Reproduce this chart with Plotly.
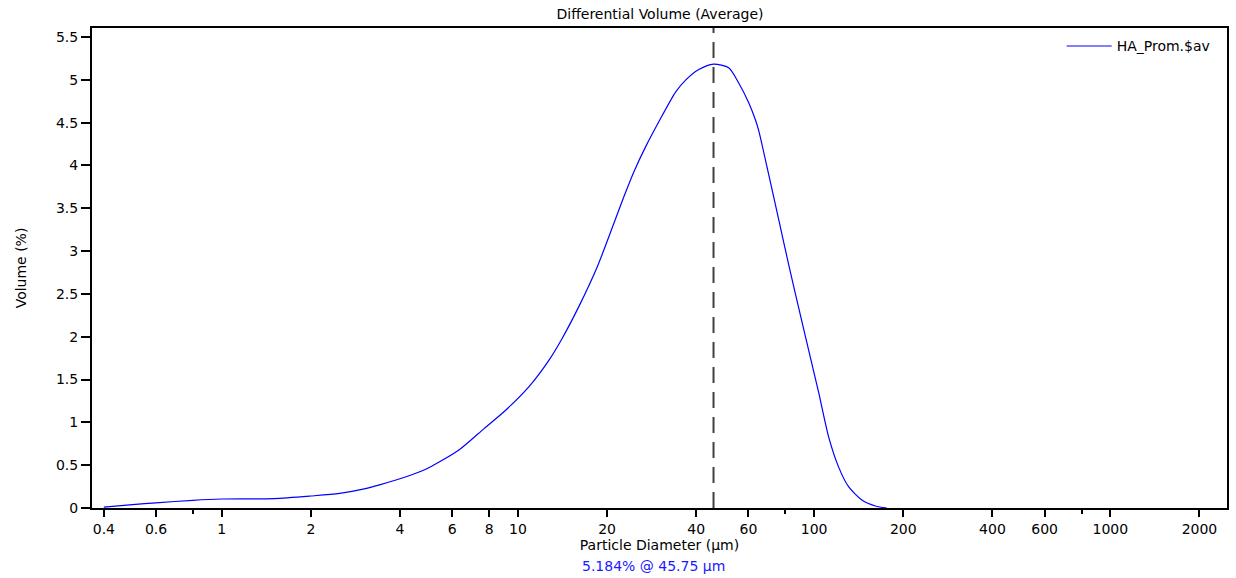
import plotly.graph_objects as go

# Differential volume distribution (average of runs)
diameter_um = [0.4, 0.5, 0.6, 0.8, 1.0, 1.5, 2.0, 2.5, 3.0, 3.41, 4.36, 5.0, 6.34, 7.7,
               9.11, 10.9, 12.75, 14.1, 16.1, 18.55, 21.12, 22.8, 24.66, 27.0, 29.9,
               34.1, 36.9, 40.8, 45.75, 51.5, 55.7, 60.2, 63.4, 65.07, 70.3, 75.98,
               82.1, 88.7, 95.8, 103.5, 111.9, 120.9, 130.7, 145.0, 161.0, 176.0]
volume_pct = [0.01, 0.04, 0.06, 0.09, 0.105, 0.11, 0.14, 0.17, 0.22, 0.27, 0.385, 0.47,
              0.68, 0.93, 1.145, 1.417, 1.73, 1.98, 2.36, 2.82, 3.33, 3.637, 3.93, 4.22,
              4.51, 4.86, 5.0, 5.12, 5.184, 5.14, 4.96, 4.73, 4.53, 4.40, 3.89, 3.364,
              2.839, 2.336, 1.846, 1.355, 0.833, 0.48, 0.249, 0.093, 0.023, 0.0]

peak_diameter = 45.75
peak_volume = 5.184

x_tickvals = [0.4, 0.6, 1, 2, 4, 6, 8, 10, 20, 40, 60, 100, 200, 400, 600, 1000, 2000]
x_ticktext = ["0.4", "0.6", "1", "2", "4", "6", "8", "10", "20", "40", "60", "100",
              "200", "400", "600", "1000", "2000"]
x_minor_vals = [0.8, 80, 800]

y_max = 5.605
x_range_log = [-0.438, 3.394]

FONT = "DejaVu Sans, Verdana, sans-serif"
FS = 14

fig = go.Figure()

fig.add_trace(go.Scatter(
    x=diameter_um, y=volume_pct, mode="lines", name="HA_Prom.$av",
    line=dict(color="#0000ff", width=1.2, shape="spline", smoothing=0.7),
))

# dashed marker at the modal diameter
fig.add_trace(go.Scatter(
    x=[peak_diameter, peak_diameter], y=[0, y_max], mode="lines",
    line=dict(color="#404040", width=2, dash="16px,9px"),
    showlegend=False, hoverinfo="skip",
))

fig.update_layout(
    width=1236, height=578,
    margin=dict(l=92, r=7, t=28, b=70),
    paper_bgcolor="white", plot_bgcolor="white",
    font=dict(family=FONT, size=FS, color="#000000"),
    title=dict(text="Differential Volume (Average)", x=0.534, xanchor="center",
               y=0.975, yanchor="middle", font=dict(size=FS)),
    showlegend=True,
    legend=dict(x=0.99, y=0.995, xanchor="right", yanchor="top", itemwidth=45,
                bgcolor="rgba(0,0,0,0)", font=dict(size=FS)),
    xaxis=dict(
        type="log", range=x_range_log,
        tickmode="array", tickvals=x_tickvals, ticktext=x_ticktext,
        ticks="outside", ticklen=7, tickwidth=1.5, tickcolor="black",
        minor=dict(tickmode="array", tickvals=x_minor_vals, ticks="outside",
                   ticklen=4, tickwidth=1.5, tickcolor="black"),
        showline=True, linecolor="black", linewidth=2, mirror=True,
        showgrid=False, zeroline=False,
        title=dict(text="Particle Diameter (µm)", standoff=2, font=dict(size=FS)),
        tickfont=dict(size=FS),
    ),
    yaxis=dict(
        range=[0, y_max], tickmode="linear", tick0=0, dtick=0.5,
        ticks="outside", ticklen=9, tickwidth=1.5, tickcolor="black",
        showline=True, linecolor="black", linewidth=2, mirror=True,
        showgrid=False, zeroline=False,
        title=dict(text="Volume (%)", standoff=26, font=dict(size=FS)),
        tickfont=dict(size=FS),
    ),
    annotations=[dict(
        text=f"{peak_volume:.3f}% @ {peak_diameter:.2f} µm",
        xref="paper", yref="paper", x=0.495, y=-0.121,
        xanchor="center", yanchor="middle", showarrow=False,
        font=dict(color="#1a1aff", size=FS),
    )],
)

fig.write_html("out.html")
